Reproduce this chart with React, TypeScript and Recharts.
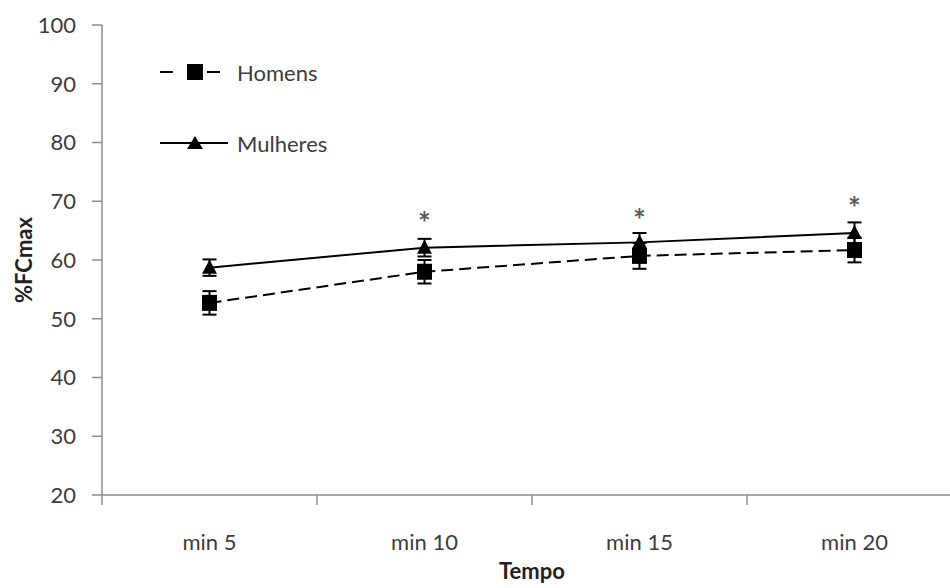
import { LineChart, Line, XAxis, YAxis, ErrorBar, Legend, Label } from "recharts";

const categories = ["min 5", "min 10", "min 15", "min 20"];
const homens = [52.7, 58.0, 60.7, 61.7];
const homensErr = [2.0, 2.0, 2.2, 2.1];
const mulheres = [58.7, 62.1, 63.0, 64.6];
const mulheresErr = [1.4, 1.5, 1.6, 1.8];
// asterisks marking significant differences, above the error bars
const significance: (number | null)[] = [null, 67.1, 67.7, 69.7];
const yTicks = [20, 30, 40, 50, 60, 70, 80, 90, 100];

const FONT = "Lato, 'Open Sans', sans-serif";
const TEXT = "#3c3c3c";
const AXIS = "#8c8c8c";
const HALF_BAND = 107.5;

const data = categories.map((tempo, i) => ({
  tempo,
  homens: homens[i],
  homensErr: homensErr[i],
  mulheres: mulheres[i],
  mulheresErr: mulheresErr[i],
  sig: significance[i],
}));

const Square = (props: any) => {
  const { cx, cy, key } = props;
  if (cx == null || cy == null) return <g key={key} />;
  return <rect key={key} x={cx - 7.5} y={cy - 8} width={15} height={16} fill="#000" />;
};

const Triangle = (props: any) => {
  const { cx, cy, key } = props;
  if (cx == null || cy == null) return <g key={key} />;
  return (
    <path key={key} d={`M${cx},${cy - 8} L${cx + 7.5},${cy + 6} L${cx - 7.5},${cy + 6} Z`} fill="#000" />
  );
};

const Star = (props: any) => {
  const { cx, cy, key, payload } = props;
  if (cx == null || cy == null || payload.sig == null) return <g key={key} />;
  return (
    <text
      key={key}
      x={cx}
      y={cy + 16}
      textAnchor="middle"
      fontSize={30}
      fontWeight="bold"
      fontFamily={FONT}
      fill="#5a5a5a"
    >
      *
    </text>
  );
};

const CategoryTick = (props: any) => {
  const { x, y, payload } = props;
  return (
    <g>
      <line x1={x - HALF_BAND} y1={y} x2={x - HALF_BAND} y2={y + 10} stroke={AXIS} strokeWidth={1.5} />
      <text x={x} y={y + 46} textAnchor="middle" dominantBaseline="central" fontSize={22} fontFamily={FONT} fill={TEXT}>
        {payload.value}
      </text>
    </g>
  );
};

const YTitle = (props: any) => {
  const vb = props.viewBox || { x: 0, y: 25, height: 470 };
  const x = vb.x + 23.5;
  const y = vb.y + vb.height / 2;
  return (
    <text
      x={x}
      y={y}
      transform={`rotate(-90, ${x}, ${y})`}
      textAnchor="middle"
      dominantBaseline="central"
      fontSize={22}
      fontWeight="bold"
      fontFamily={FONT}
      fill="#222"
    >
      %FCmax
    </text>
  );
};

const LegendBox = (props: any) => {
  const items = (props.payload || []).filter((p: any) => p.dataKey !== "sig");
  return (
    <svg width={230} height={110}>
      {items.map((item: any, i: number) => {
        const cy = 17 + i * 71;
        const dashed = item.dataKey === "homens";
        return (
          <g key={item.dataKey}>
            {dashed ? (
              <>
                <line x1={10} y1={cy} x2={23} y2={cy} stroke="#000" strokeWidth={2} />
                <line x1={57} y1={cy} x2={70} y2={cy} stroke="#000" strokeWidth={2} />
                <rect x={37} y={cy - 8} width={16} height={16} fill="#000" />
              </>
            ) : (
              <>
                <line x1={10} y1={cy} x2={78} y2={cy} stroke="#000" strokeWidth={2} />
                <path d={`M45,${cy - 7} L53,${cy + 6} L37,${cy + 6} Z`} fill="#000" />
              </>
            )}
            <text x={87} y={cy} dominantBaseline="central" fontSize={22} fontFamily={FONT} fill={TEXT}>
              {item.value}
            </text>
          </g>
        );
      })}
    </svg>
  );
};

export default function App() {
  return (
    <div style={{ width: 950, height: 588, overflow: "hidden", position: "relative", background: "#fff" }}>
      <style>{"body{margin:0}"}</style>
      <LineChart width={962} height={588} data={data} margin={{ top: 25, right: 0, bottom: 0, left: 0 }}>
        <XAxis
          dataKey="tempo"
          height={93}
          padding={{ left: HALF_BAND, right: HALF_BAND }}
          axisLine={{ stroke: AXIS, strokeWidth: 1.5 }}
          tickLine={false}
          tickSize={0}
          tickMargin={0}
          tick={<CategoryTick />}
          interval={0}
        >
          <Label
            value="Tempo"
            position="insideBottom"
            offset={9}
            fontSize={22}
            fontWeight="bold"
            fontFamily={FONT}
            fill="#222"
          />
        </XAxis>
        <YAxis
          width={102}
          domain={[20, 100]}
          ticks={yTicks}
          interval={0}
          axisLine={{ stroke: AXIS, strokeWidth: 1.5 }}
          tickLine={{ stroke: AXIS, strokeWidth: 1.5 }}
          tickSize={10}
          tickMargin={16}
          tick={{ fill: TEXT, fontSize: 22, fontFamily: FONT }}
        >
          <Label content={<YTitle />} />
        </YAxis>
        <Legend
          layout="vertical"
          align="center"
          verticalAlign="middle"
          wrapperStyle={{ left: 150, top: 55, width: 230, height: 110 }}
          content={<LegendBox />}
        />
        <Line
          dataKey="homens"
          name="Homens"
          stroke="#000"
          strokeWidth={2}
          strokeDasharray="12 6"
          dot={Square}
          activeDot={false}
          isAnimationActive={false}
        >
          <ErrorBar dataKey="homensErr" direction="y" width={7} stroke="#000" strokeWidth={2} />
        </Line>
        <Line
          dataKey="mulheres"
          name="Mulheres"
          stroke="#000"
          strokeWidth={2}
          dot={Triangle}
          activeDot={false}
          isAnimationActive={false}
        >
          <ErrorBar dataKey="mulheresErr" direction="y" width={7} stroke="#000" strokeWidth={2} />
        </Line>
        <Line
          dataKey="sig"
          name="sig"
          stroke="none"
          dot={Star}
          activeDot={false}
          legendType="none"
          isAnimationActive={false}
        />
      </LineChart>
    </div>
  );
}
